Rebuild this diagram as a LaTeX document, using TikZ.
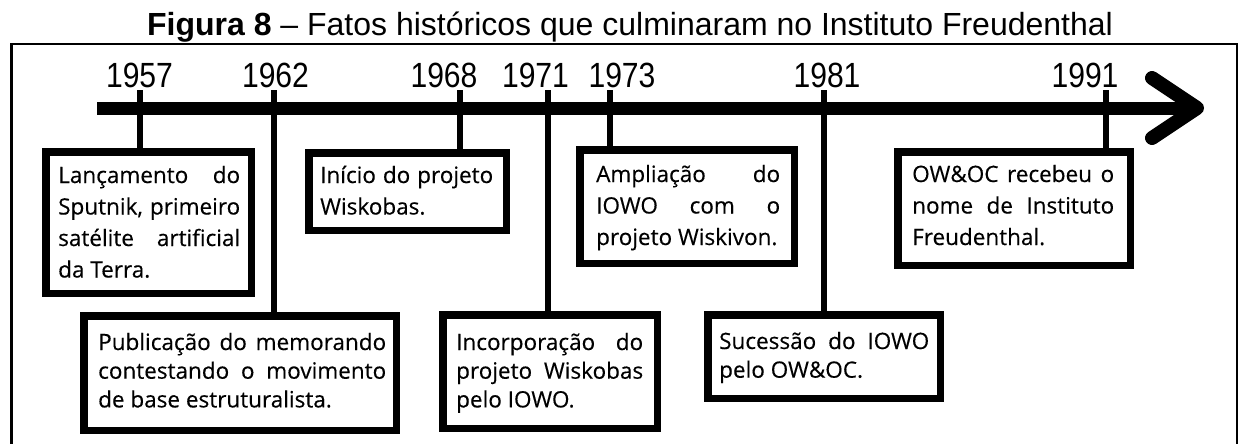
\documentclass[tikz,border=0pt]{standalone}
\usepackage{fontspec}
\setmainfont{Liberation Sans}
\newfontfamily\boxfont[FakeBold=0.35]{Open Sans}
\newfontfamily\yearfont[FakeStretch=0.86]{Liberation Sans}
\newcommand\jline[2]{\makebox[#1][s]{#2}}
\newcommand\toptext[2]{\parbox[t]{#1}{\boxfont\fontsize{22.5pt}{31.5pt}\selectfont #2}}
\newcommand\bottext[2]{\parbox[t]{#1}{\boxfont\fontsize{22.5pt}{28.7pt}\selectfont #2}}
\begin{document}
\begin{tikzpicture}[x=1pt,y=-1pt,
  evbox/.style={draw=black, line width=7.5pt, rectangle, inner sep=0pt, fill=white},
  evtext/.style={anchor=base west, inner sep=0pt},
  year/.style={anchor=base, inner sep=0pt, font=\yearfont\fontsize{35pt}{35pt}\selectfont},
  tick/.style={line width=5.5pt},
  bar/.style={line width=13pt},
  head/.style={line width=14pt, line cap=round, line join=round},
  frame/.style={line width=2.2pt}]
\useasboundingbox (0,0) rectangle (1239,444);
% frame
\draw[frame] (11.5,446) -- (11.5,44) -- (1237,44) -- (1237,446);
% title
\node[anchor=base, inner sep=0pt, font=\fontsize{32pt}{32pt}\selectfont] (title) at (630,36)
  {\textbf{Figura 8} – Fatos históricos que culminaram no Instituto Freudenthal};
% years
\node[year] (y1957) at (139.5,88) {1957};
\node[year] (y1962) at (275.5,88) {1962};
\node[year] (y1968) at (444,88) {1968};
\node[year] (y1971) at (535.5,88) {1971};
\node[year] (y1973) at (622,88) {1973};
\node[year] (y1981) at (827,88) {1981};
\node[year] (y1991) at (1085,88) {1991};
% tick tops
\coordinate (k1957) at (140,90);
\coordinate (k1962) at (274,90);
\coordinate (k1968) at (460,90);
\coordinate (k1971) at (548,90);
\coordinate (k1973) at (610,90);
\coordinate (k1981) at (824,90);
\coordinate (k1991) at (1106,90);
% boxes
\node[evbox, minimum width=205.5pt, minimum height=141.5pt] (b1957) at (148.5,222.5) {};
\node[evbox, minimum width=312.5pt, minimum height=114.5pt] (b1962) at (240,373) {};
\node[evbox, minimum width=197.5pt, minimum height=77.5pt] (b1968) at (407.5,191.5) {};
\node[evbox, minimum width=214.5pt, minimum height=113.5pt] (b1971) at (550,371.5) {};
\node[evbox, minimum width=214.5pt, minimum height=113.5pt] (b1973) at (687,206.5) {};
\node[evbox, minimum width=232.5pt, minimum height=83.5pt] (b1981) at (824,356.5) {};
\node[evbox, minimum width=232.5pt, minimum height=113.5pt] (b1991) at (1014,208.5) {};
% ticks
\draw[tick] (k1957) -- (k1957 |- b1957.north);
\draw[tick] (k1962) -- (k1962 |- b1962.north);
\draw[tick] (k1968) -- (k1968 |- b1968.north);
\draw[tick] (k1971) -- (k1971 |- b1971.north);
\draw[tick] (k1973) -- (k1973 |- b1973.north);
\draw[tick] (k1981) -- (k1981 |- b1981.north);
\draw[tick] (k1991) -- (k1991 |- b1991.north);
% timeline
\coordinate (t0) at (97,108);
\coordinate (t1) at (1197,108);
\coordinate (h1) at (1152,78);
\coordinate (h2) at (1152,138);
\draw[bar] (t0) -- (t1);
\draw[head] (h1) -- (t1) -- (h2);
% texts
\node[evtext] (x1957) at (58,183) {\toptext{190pt}{\jline{182pt}{Lançamento do}\\\jline{182pt}{Sputnik, primeiro}\\\jline{182pt}{satélite artificial}\\da Terra.}};
\node[evtext] (x1968) at (320,183) {\toptext{180pt}{\jline{173pt}{Início do projeto}\\Wiskobas.}};
\node[evtext] (x1973) at (596,182) {\toptext{190pt}{\jline{184pt}{Ampliação do}\\\jline{184pt}{IOWO com o}\\projeto Wiskivon.}};
\node[evtext] (x1991) at (912,182) {\toptext{210pt}{\jline{202pt}{OW\&OC recebeu o}\\\jline{202pt}{nome de Instituto}\\Freudenthal.}};
\node[evtext] (x1962) at (98,350) {\bottext{295pt}{\jline{288pt}{Publicação do memorando}\\\jline{288pt}{contestando o movimento}\\de base estruturalista.}};
\node[evtext] (x1971) at (456,350) {\bottext{195pt}{\jline{187pt}{Incorporação do}\\\jline{187pt}{projeto Wiskobas}\\pelo IOWO.}};
\node[evtext] (x1981) at (719,349) {\bottext{215pt}{\jline{210pt}{Sucessão do IOWO}\\pelo OW\&OC.}};
\end{tikzpicture}
\end{document}
